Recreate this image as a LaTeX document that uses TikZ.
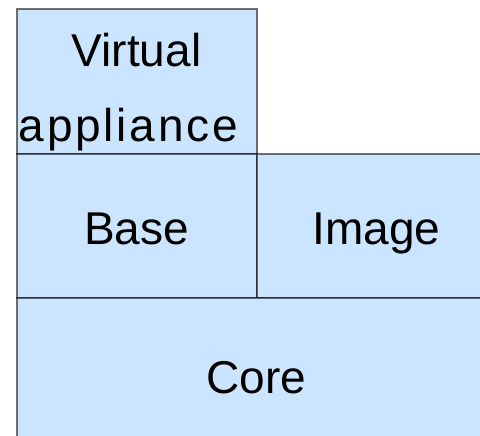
\documentclass[tikz,border=0pt]{standalone}
\usepackage{fontspec}
\setmainfont{Liberation Sans}
\usetikzlibrary{calc}
\begin{document}
\begin{tikzpicture}[x=1pt,y=-1pt,
  layer/.style={draw=black,draw opacity=0.55,line width=2pt,fill=layerblue,
    minimum width=240pt,anchor=north west,inner sep=0pt},
  caption/.style={anchor=base,inner sep=0pt,font=\fontsize{46}{56}\selectfont}]
\definecolor{layerblue}{HTML}{CCE5FF}
\useasboundingbox (0,0) rectangle (480,436);
% stacked layers, top to bottom
\node[layer,minimum height=144.5pt] (va) at (15.5,8.5) {};
\node[layer,minimum height=144pt] (base) at (15.5,153) {};
\node[layer,minimum height=144pt] (image) at (255.5,153) {};
\node[layer,minimum height=154pt,minimum width=480pt] (core) at (15.5,297) {};
% layer names
\node[caption] (vaA) at ($(va.center)+(0,-15)$) {Virtual};
\node[caption] (vaB) at ($(va.center)+(-8,60)$) {\addfontfeature{LetterSpace=6}appliance};
\node[caption] (baseT) at ($(base.center)+(0,18)$) {Base};
\node[caption] (imageT) at ($(image.center)+(0,18)$) {Image};
\node[caption] (coreT) at ($(core.center)+(0,18)$) {Core};
\end{tikzpicture}
\end{document}
